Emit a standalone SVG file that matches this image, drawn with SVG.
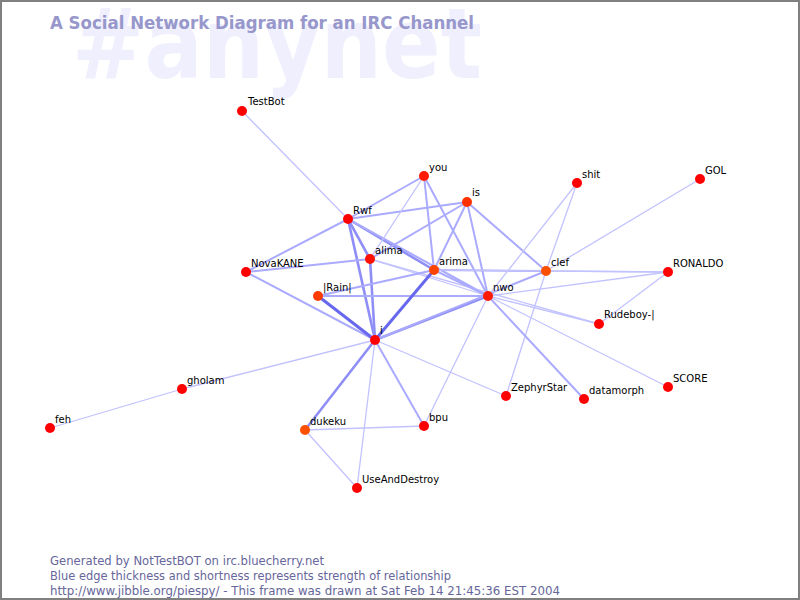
<svg xmlns="http://www.w3.org/2000/svg" width="800" height="600" viewBox="0 0 800 600">
<style>
.e1{stroke:#c2c2ff;stroke-width:1.3;fill:none}
.e2{stroke:#aaaaff;stroke-width:2;fill:none}
.e3{stroke:#8e8ef6;stroke-width:2.6;fill:none}
.e4{stroke:#6868ee;stroke-width:3;fill:none}
.lbl{font-family:"DejaVu Sans",sans-serif;font-size:10px;fill:#000}
.foot{font-family:"DejaVu Sans",sans-serif;font-size:11.5px;fill:#66669a}
</style>
<rect x="0" y="0" width="800" height="600" fill="#fff"/>
<text x="72" y="78" font-family="DejaVu Sans,sans-serif" font-size="98" font-weight="bold" fill="#efeffd" textLength="410" lengthAdjust="spacingAndGlyphs">#anynet</text>
<text x="50" y="29" font-family="DejaVu Sans,sans-serif" font-size="17" font-weight="bold" fill="#9797cc" textLength="424" lengthAdjust="spacingAndGlyphs">A Social Network Diagram for an IRC Channel</text>
<g id="edges">
<line class="e1" x1="242" y1="111" x2="348" y2="219"/>
<line class="e1" x1="50" y1="428" x2="182" y2="389"/>
<line class="e1" x1="182" y1="389" x2="375" y2="340"/>
<line class="e2" x1="348" y1="219" x2="424" y2="176"/>
<line class="e2" x1="348" y1="219" x2="467" y2="202"/>
<line class="e2" x1="348" y1="219" x2="246" y2="272"/>
<line class="e3" x1="348" y1="219" x2="370" y2="259"/>
<line class="e3" x1="348" y1="219" x2="375" y2="340"/>
<line class="e3" x1="348" y1="219" x2="434" y2="270"/>
<line class="e2" x1="348" y1="219" x2="488" y2="296"/>
<line class="e1" x1="424" y1="176" x2="370" y2="259"/>
<line class="e2" x1="424" y1="176" x2="434" y2="270"/>
<line class="e2" x1="424" y1="176" x2="488" y2="296"/>
<line class="e2" x1="467" y1="202" x2="370" y2="259"/>
<line class="e2" x1="467" y1="202" x2="434" y2="270"/>
<line class="e2" x1="467" y1="202" x2="488" y2="296"/>
<line class="e2" x1="467" y1="202" x2="546" y2="271"/>
<line class="e2" x1="246" y1="272" x2="370" y2="259"/>
<line class="e2" x1="246" y1="272" x2="375" y2="340"/>
<line class="e3" x1="370" y1="259" x2="375" y2="340"/>
<line class="e1" x1="370" y1="259" x2="488" y2="296"/>
<line class="e1" x1="370" y1="259" x2="599" y2="324"/>
<line class="e4" x1="318" y1="296" x2="375" y2="340"/>
<line class="e2" x1="318" y1="296" x2="434" y2="270"/>
<line class="e2" x1="318" y1="296" x2="488" y2="296"/>
<line class="e4" x1="434" y1="270" x2="375" y2="340"/>
<line class="e2" x1="434" y1="270" x2="488" y2="296"/>
<line class="e2" x1="434" y1="270" x2="546" y2="271"/>
<line class="e1" x1="434" y1="270" x2="668" y2="272"/>
<line class="e1" x1="546" y1="271" x2="668" y2="272"/>
<line class="e3" x1="375" y1="340" x2="488" y2="296"/>
<line class="e2" x1="375" y1="340" x2="546" y2="271"/>
<line class="e1" x1="546" y1="271" x2="577" y2="183"/>
<line class="e1" x1="546" y1="271" x2="700" y2="179"/>
<line class="e1" x1="546" y1="271" x2="506" y2="396"/>
<line class="e1" x1="488" y1="296" x2="577" y2="183"/>
<line class="e1" x1="488" y1="296" x2="668" y2="272"/>
<line class="e1" x1="488" y1="296" x2="599" y2="324"/>
<line class="e1" x1="488" y1="296" x2="668" y2="387"/>
<line class="e2" x1="488" y1="296" x2="584" y2="399"/>
<line class="e1" x1="488" y1="296" x2="424" y2="426"/>
<line class="e1" x1="668" y1="272" x2="599" y2="324"/>
<line class="e1" x1="375" y1="340" x2="506" y2="396"/>
<line class="e2" x1="375" y1="340" x2="424" y2="426"/>
<line class="e3" x1="375" y1="340" x2="305" y2="430"/>
<line class="e1" x1="375" y1="340" x2="357" y2="488"/>
<line class="e1" x1="305" y1="430" x2="424" y2="426"/>
<line class="e1" x1="305" y1="430" x2="357" y2="488"/>
</g>
<g id="TestBot"><circle cx="242" cy="111" r="5" fill="#ff0000"/><text class="lbl" x="248" y="105">TestBot</text></g>
<g id="you"><circle cx="424" cy="176" r="5" fill="#ff1a00"/><text class="lbl" x="429" y="171">you</text></g>
<g id="is"><circle cx="467" cy="202" r="5" fill="#ff3000"/><text class="lbl" x="472" y="196">is</text></g>
<g id="shit"><circle cx="577" cy="183" r="5" fill="#ff0000"/><text class="lbl" x="582" y="178">shit</text></g>
<g id="GOL"><circle cx="700" cy="179" r="5" fill="#ff0000"/><text class="lbl" x="705" y="174">GOL</text></g>
<g id="Rwf"><circle cx="348" cy="219" r="5" fill="#ff0000"/><text class="lbl" x="353" y="214">Rwf</text></g>
<g id="alima"><circle cx="370" cy="259" r="5" fill="#ff1000"/><text class="lbl" x="375" y="254">alima</text></g>
<g id="arima"><circle cx="434" cy="270" r="5" fill="#ff4400"/><text class="lbl" x="439" y="265">arima</text></g>
<g id="clef"><circle cx="546" cy="271" r="5" fill="#ff5000"/><text class="lbl" x="551" y="266">clef</text></g>
<g id="RONALDO"><circle cx="668" cy="272" r="5" fill="#ff0000"/><text class="lbl" x="673" y="267">RONALDO</text></g>
<g id="NovaKANE"><circle cx="246" cy="272" r="5" fill="#ff0000"/><text class="lbl" x="251" y="267">NovaKANE</text></g>
<g id="Rain"><circle cx="318" cy="296" r="5" fill="#ff3c00"/><text class="lbl" x="323" y="291">|Rain|</text></g>
<g id="nwo"><circle cx="488" cy="296" r="5" fill="#ff1a00"/><text class="lbl" x="493" y="291">nwo</text></g>
<g id="Rudeboy"><circle cx="599" cy="324" r="5" fill="#ff0000"/><text class="lbl" x="604" y="318">Rudeboy-|</text></g>
<g id="i"><circle cx="375" cy="340" r="5" fill="#ff0000"/><text class="lbl" x="380" y="334">i</text></g>
<g id="gholam"><circle cx="182" cy="389" r="5" fill="#ff0000"/><text class="lbl" x="187" y="384">gholam</text></g>
<g id="SCORE"><circle cx="668" cy="387" r="5" fill="#ff0000"/><text class="lbl" x="673" y="382">SCORE</text></g>
<g id="ZephyrStar"><circle cx="506" cy="396" r="5" fill="#ff0000"/><text class="lbl" x="511" y="391">ZephyrStar</text></g>
<g id="datamorph"><circle cx="584" cy="399" r="5" fill="#ff0000"/><text class="lbl" x="589" y="394">datamorph</text></g>
<g id="feh"><circle cx="50" cy="428" r="5" fill="#ff0000"/><text class="lbl" x="55" y="423">feh</text></g>
<g id="dukeku"><circle cx="305" cy="430" r="5" fill="#ff5000"/><text class="lbl" x="310" y="425">dukeku</text></g>
<g id="bpu"><circle cx="424" cy="426" r="5" fill="#ff0000"/><text class="lbl" x="429" y="421">bpu</text></g>
<g id="UseAndDestroy"><circle cx="357" cy="488" r="5" fill="#ff0000"/><text class="lbl" x="362" y="483">UseAndDestroy</text></g>
<text class="foot" x="50" y="565" textLength="274" lengthAdjust="spacingAndGlyphs">Generated by NotTestBOT on irc.bluecherry.net</text>
<text class="foot" x="50" y="580" textLength="401" lengthAdjust="spacingAndGlyphs">Blue edge thickness and shortness represents strength of relationship</text>
<text class="foot" x="50" y="595" textLength="510" lengthAdjust="spacingAndGlyphs">http://www.jibble.org/piespy/ - This frame was drawn at Sat Feb 14 21:45:36 EST 2004</text>
<rect x="1" y="1" width="798" height="598" fill="none" stroke="#808080" stroke-width="2"/>
</svg>
